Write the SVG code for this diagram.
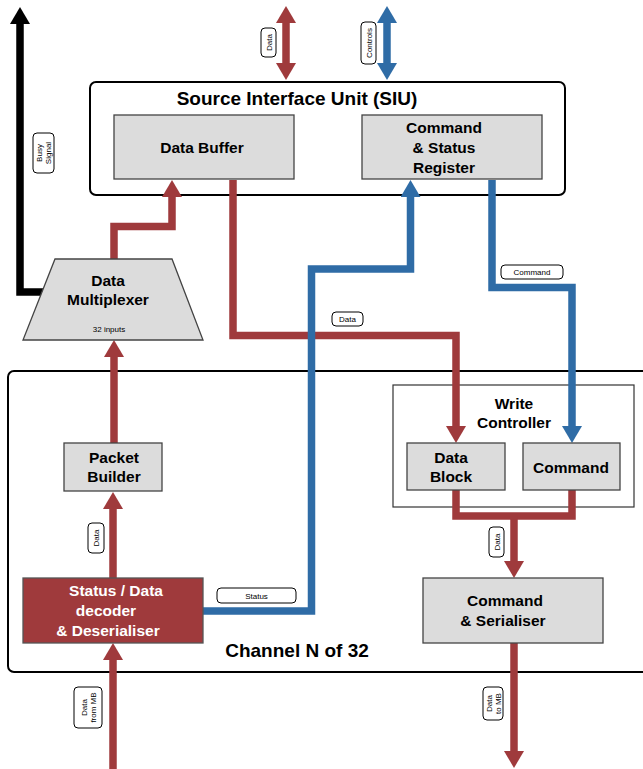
<svg xmlns="http://www.w3.org/2000/svg" width="643" height="769" viewBox="0 0 643 769">
  <style>
    .container { fill: #ffffff; stroke: #000000; stroke-width: 2; }
    .inner { fill: #ffffff; stroke: #333333; stroke-width: 1.2; }
    .box { fill: #dcdcdc; stroke: #444444; stroke-width: 1.3; }
    .dec { fill: #9f3a3c; stroke: #555555; stroke-width: 1.3; }
    .title { font-family: "Liberation Sans", Arial, sans-serif; font-weight: bold; font-size: 19px; fill: #000; text-anchor: middle; }
    .t { font-family: "Liberation Sans", Arial, sans-serif; font-weight: bold; font-size: 15.5px; fill: #000; text-anchor: middle; }
    .tw { fill: #ffffff; }
    .small { font-family: "Liberation Sans", Arial, sans-serif; font-size: 8px; fill: #000; text-anchor: middle; }
    .tag { fill: #ffffff; stroke: #000000; stroke-width: 1; }
    .red { fill: none; stroke: #9f3a3c; stroke-width: 7.5; stroke-linejoin: miter; }
    .blue { fill: none; stroke: #2f6ca6; stroke-width: 7.5; stroke-linejoin: miter; }
    .black { fill: none; stroke: #000000; stroke-width: 7.5; stroke-linejoin: miter; }
  </style>
  <defs>
    <marker id="headRed" markerUnits="userSpaceOnUse" viewBox="0 0 17 20" refX="0" refY="10" markerWidth="17" markerHeight="20" orient="auto-start-reverse">
      <path d="M0,0 L17,10 L0,20 z" fill="#9f3a3c"/>
    </marker>
    <marker id="headBlue" markerUnits="userSpaceOnUse" viewBox="0 0 17 20" refX="0" refY="10" markerWidth="17" markerHeight="20" orient="auto-start-reverse">
      <path d="M0,0 L17,10 L0,20 z" fill="#2f6ca6"/>
    </marker>
    <marker id="headBlack" markerUnits="userSpaceOnUse" viewBox="0 0 17 20" refX="0" refY="10" markerWidth="17" markerHeight="20" orient="auto-start-reverse">
      <path d="M0,0 L17,10 L0,20 z" fill="#000000"/>
    </marker>
  </defs>

  <rect width="643" height="769" fill="#ffffff"/>

  <!-- outer containers -->
  <g id="siu">
    <rect class="container" x="90" y="82" width="475" height="113" rx="6"/>
    <text class="title" x="297" y="105">Source Interface Unit (SIU)</text>
  </g>
  <g id="channel">
    <rect class="container" x="8" y="371" width="650" height="301" rx="6"/>
    <text class="title" x="297" y="657">Channel N of 32</text>
  </g>
  <g id="write-controller">
    <rect class="inner" x="393" y="385" width="241" height="122"/>
    <text class="t" x="514" y="409">Write</text>
    <text class="t" x="514" y="428">Controller</text>
  </g>

  <!-- connectors -->
  <g id="connectors">
    <path class="red" d="M286,23 V63" marker-start="url(#headRed)" marker-end="url(#headRed)"/>
    <path class="blue" d="M387,23 V63" marker-start="url(#headBlue)" marker-end="url(#headBlue)"/>
    <path class="black" d="M44,292 H20 V24" marker-end="url(#headBlack)"/>
    <path class="red" d="M114,259 V226.5 H172 V197" marker-end="url(#headRed)"/>
    <path class="red" d="M233,180 V335.5 H456 V426" marker-end="url(#headRed)"/>
    <path class="blue" d="M203,611 H311.5 V269 H410.5 V197" marker-end="url(#headBlue)"/>
    <path class="blue" d="M492,180 V287.5 H572 V426" marker-end="url(#headBlue)"/>
    <path class="red" d="M456,490 V516 H572 V490"/>
    <path class="red" d="M514,516 V561" marker-end="url(#headRed)"/>
    <path class="red" d="M514,643 V751" marker-end="url(#headRed)"/>
    <path class="red" d="M113,769 V660" marker-end="url(#headRed)"/>
    <path class="red" d="M113,578 V509" marker-end="url(#headRed)"/>
    <path class="red" d="M114,443 V357" marker-end="url(#headRed)"/>

    <!-- connector tags -->
    <rect class="tag" x="261" y="28" width="15" height="29" rx="4"/>
    <text class="small" transform="translate(268.5,42.5) rotate(-90)" y="3">Data</text>
    <rect class="tag" x="361" y="22" width="15" height="42" rx="4"/>
    <text class="small" transform="translate(368.5,43) rotate(-90)" y="3">Controls</text>
    <rect class="tag" x="33" y="133" width="21" height="40" rx="4"/>
    <text class="small" transform="translate(43.5,153) rotate(-90)"><tspan x="0" y="-1.5">Busy</tspan><tspan x="0" y="7.5">Signal</tspan></text>
    <rect class="tag" x="332" y="312" width="31" height="14" rx="4"/>
    <text class="small" x="347.5" y="322">Data</text>
    <rect class="tag" x="501" y="265" width="62" height="14" rx="4"/>
    <text class="small" x="532" y="275">Command</text>
    <rect class="tag" x="217" y="588" width="79" height="15" rx="4"/>
    <text class="small" x="256.5" y="598.5">Status</text>
    <rect class="tag" x="88" y="523" width="16" height="30" rx="4"/>
    <text class="small" transform="translate(96,538) rotate(-90)" y="3">Data</text>
    <rect class="tag" x="74" y="687" width="28" height="41" rx="4"/>
    <text class="small" transform="translate(88,707.5) rotate(-90)"><tspan x="0" y="-1.5">Data</tspan><tspan x="0" y="7.5">from MB</tspan></text>
    <rect class="tag" x="489" y="527" width="15" height="30" rx="4"/>
    <text class="small" transform="translate(496.5,542) rotate(-90)" y="3">Data</text>
    <rect class="tag" x="483" y="687" width="20" height="33" rx="4"/>
    <text class="small" transform="translate(493,703.5) rotate(-90)"><tspan x="0" y="-1.5">Data</tspan><tspan x="0" y="7.5">to MB</tspan></text>
  </g>

  <!-- nodes -->
  <g id="data-buffer">
    <rect class="box" x="114" y="115" width="180" height="64"/>
    <text class="t" x="202" y="153">Data Buffer</text>
  </g>
  <g id="command-status-register">
    <rect class="box" x="362" y="115" width="180" height="64"/>
    <text class="t" x="444" y="133">Command</text>
    <text class="t" x="444" y="153">&amp; Status</text>
    <text class="t" x="444" y="173">Register</text>
  </g>
  <g id="data-multiplexer">
    <path class="box" d="M55,259 H172 L203,340 H23 Z"/>
    <text class="t" x="108" y="286">Data</text>
    <text class="t" x="108" y="305">Multiplexer</text>
    <text class="small" x="109" y="332">32 inputs</text>
  </g>
  <g id="packet-builder">
    <rect class="box" x="64" y="443" width="98" height="48"/>
    <text class="t" x="114" y="463">Packet</text>
    <text class="t" x="114" y="482">Builder</text>
  </g>
  <g id="data-block">
    <rect class="box" x="407" y="443" width="98" height="47"/>
    <text class="t" x="451" y="463">Data</text>
    <text class="t" x="451" y="482">Block</text>
  </g>
  <g id="command">
    <rect class="box" x="523" y="443" width="97" height="47"/>
    <text class="t" x="571" y="473">Command</text>
  </g>
  <g id="decoder">
    <rect class="dec" x="23" y="578" width="180" height="65"/>
    <text class="t tw" x="116" y="596">Status / Data</text>
    <text class="t tw" x="106" y="616">decoder</text>
    <text class="t tw" x="108" y="636">&amp; Deserialiser</text>
  </g>
  <g id="command-serialiser">
    <rect class="box" x="423" y="578" width="180" height="65"/>
    <text class="t" x="505" y="606">Command</text>
    <text class="t" x="503" y="626">&amp; Serialiser</text>
  </g>
</svg>
